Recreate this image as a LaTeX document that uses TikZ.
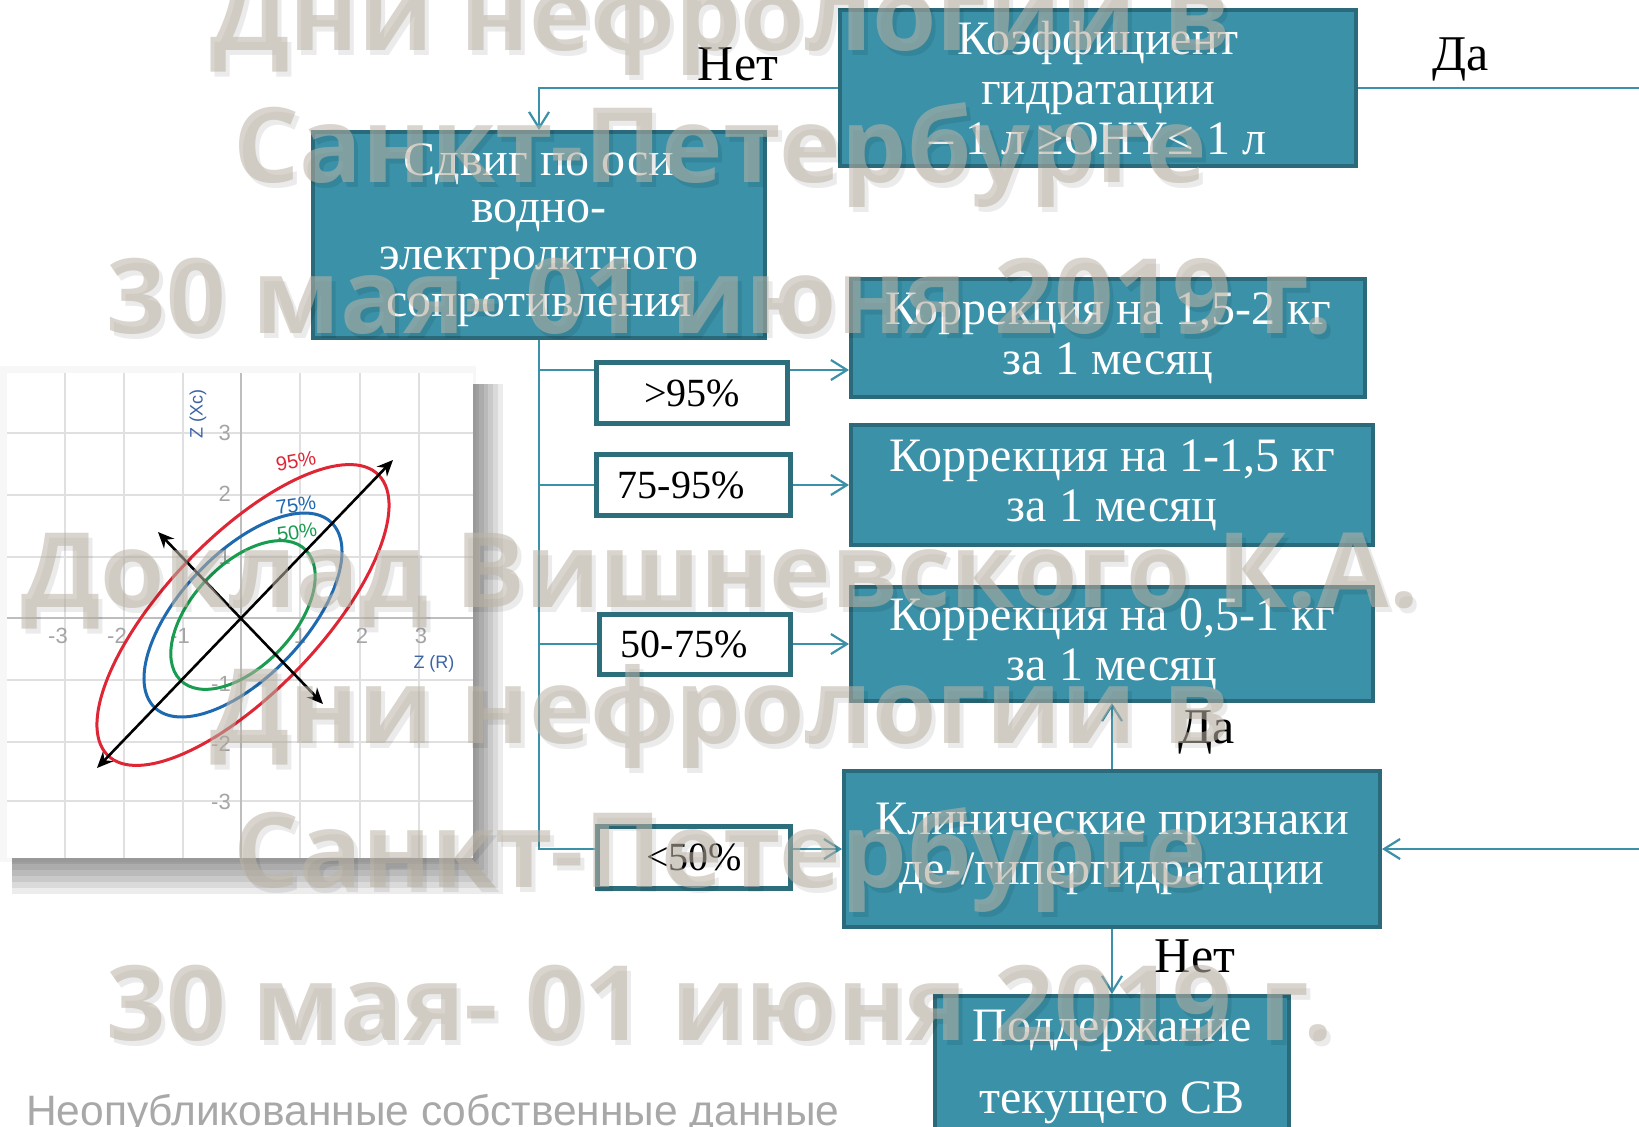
\documentclass[tikz,border=0pt]{standalone}
\usepackage{fontspec}
\setmainfont{Liberation Serif}
\newfontfamily\wmfont{Open Sans}
\newfontfamily\arialfont{Liberation Sans}
\usetikzlibrary{arrows.meta}
\definecolor{boxfill}{RGB}{58,145,168}
\definecolor{boxline}{RGB}{42,106,122}
\definecolor{conn}{RGB}{60,145,168}
\definecolor{lblline}{RGB}{45,110,125}
\definecolor{wmc}{RGB}{188,180,166}
\definecolor{gridc}{RGB}{224,224,224}
\definecolor{axisc}{RGB}{190,190,190}
\definecolor{tickc}{RGB}{165,165,165}
\definecolor{ered}{RGB}{222,38,52}
\definecolor{eblue}{RGB}{30,105,175}
\definecolor{egreen}{RGB}{25,155,80}
\definecolor{zlab}{RGB}{60,100,165}
\definecolor{notec}{RGB}{168,168,168}
\begin{document}
\begin{tikzpicture}[x=1pt,y=-1pt,
  bigbox/.style={draw=boxline, line width=4pt, fill=boxfill, text=white, align=center,
    font=\fontsize{48}{50}\selectfont, inner sep=0pt},
  lblbox/.style={draw=lblline, line width=5pt, fill=white, text=black, align=center,
    font=\fontsize{40}{44}\selectfont, inner sep=0pt},
  conline/.style={draw=conn, line width=2.2pt},
  conarrow/.style={conline, -{Straight Barb[length=16pt,width=20pt]}},
  yesno/.style={font=\fontsize{50}{54}\selectfont, text=black, inner sep=0pt, anchor=base},
  ticklbl/.style={font=\arialfont\fontsize{22}{22}\selectfont, text=tickc, inner sep=0pt},
  wmtext/.style={font=\wmfont\bfseries\fontsize{104}{104}\selectfont, text=wmc, opacity=0.56, anchor=base, inner sep=0pt},
  wmshadow/.style={font=\wmfont\bfseries\fontsize{104}{104}\selectfont, text=black, opacity=0.08, anchor=base, inner sep=0pt},
  plotarrow/.style={black, line width=2.6pt, {Stealth[length=16pt,width=14pt]}-{Stealth[length=16pt,width=14pt]}},
  ell/.style={line width=3pt, shift={(243,615)}, yscale=1.03, rotate=45}
]
\useasboundingbox (0,0) rectangle (1639,1127);
\clip (0,0) rectangle (1639,1127);
\fill[white] (0,0) rectangle (1639,1127);

% ---------- chart panel ----------
\fill[black!3] (0,366) rectangle (476,862);
\foreach \d in {6,12,18,24,30,36} {
  \fill[black, opacity=0.075] (12,384) rectangle (474+\d*0.8, 858+\d);
}
\fill[white] (7,373) rectangle (473,858);
\foreach \gx in {65,124,183,300,360,419} \draw[gridc, line width=1.2pt] (\gx,373) -- (\gx,858);
\foreach \gy in {433,495,557,680,742,801} \draw[gridc, line width=1.2pt] (7,\gy) -- (473,\gy);
\draw[axisc, line width=1.6pt] (241,373) -- (241,858);
\draw[axisc, line width=1.6pt] (7,618) -- (473,618);
\foreach \tx/\tl in {58/-3,117/-2,180/-1,300/1,362/2,421/3} \node[ticklbl] at (\tx,636) {\tl};
\foreach \ty/\tl in {433/3,494/2,557/1,684/-1,744/-2,802/-3} \node[ticklbl, anchor=east] at (231,\ty) {\tl};
\node[font=\arialfont\fontsize{18}{18}\selectfont, text=zlab, rotate=90, inner sep=0pt] at (198,414) {Z (Xc)};
\node[font=\arialfont\fontsize{18}{18}\selectfont, text=zlab, inner sep=0pt] at (434,664) {Z (R)};
\draw[ered, ell] (0,0) ellipse [x radius=192, y radius=76];
\draw[eblue, ell] (0,0) ellipse [x radius=126, y radius=61];
\draw[egreen, ell] (0,0) ellipse [x radius=89, y radius=50];
\node[font=\arialfont\fontsize{20}{20}\selectfont, text=ered, rotate=10, inner sep=0pt] at (296,461) {95\%};
\node[font=\arialfont\fontsize{20}{20}\selectfont, text=eblue, rotate=8, inner sep=0pt] at (296,505) {75\%};
\node[font=\arialfont\fontsize{20}{20}\selectfont, text=egreen, rotate=8, inner sep=0pt] at (297,532) {50\%};
\draw[plotarrow] (97,768) -- (393,460);
\draw[plotarrow] (158,532) -- (323,704);

% ---------- flowchart boxes ----------
\node[bigbox, minimum width=516pt, minimum height=156pt] (kof) at (1098,88)
  {Коэффициент\\гидратации\\– 1 л ≥OHY≤ 1 л};
\node[bigbox, minimum width=452pt, minimum height=206pt,
  font=\fontsize{48}{47}\selectfont] (sdv) at (539,235)
  {Сдвиг по оси\\водно-\\электролитного\\сопротивления};
\node[bigbox, minimum width=514pt, minimum height=118pt] (k1) at (1108,338)
  {Коррекция на 1,5-2 кг\\за 1 месяц};
\node[bigbox, minimum width=522pt, minimum height=120pt] (k2) at (1112,485)
  {Коррекция на 1-1,5 кг\\за 1 месяц};
\node[bigbox, minimum width=522pt, minimum height=114pt] (k3) at (1112,644)
  {Коррекция на 0,5-1 кг\\за 1 месяц};
\node[bigbox, minimum width=536pt, minimum height=156pt] (klin) at (1112,849)
  {Клинические признаки\\де-/гипергидратации};
\node[bigbox, minimum width=354pt, minimum height=142pt,
  font=\fontsize{48}{72}\selectfont] (podd) at (1112,1067)
  {Поддержание\\текущего СВ};

\node[lblbox, minimum width=191pt, minimum height=61pt] (l95) at (692,393) {>95\%};
\node[lblbox, minimum width=194pt, minimum height=61pt] (l75) at (693,485) {75-95\%\hspace*{24pt}};
\node[lblbox, minimum width=191pt, minimum height=60pt] (l50) at (695,644) {50-75\%\hspace*{22pt}};
\node[lblbox, minimum width=193pt, minimum height=62pt] (llt) at (694,857) {<50\%};

% ---------- connectors ----------
\coordinate (tb) at (539,849);
\coordinate (offr) at (1680,500);
\draw[conarrow] (kof.west) -| (sdv.north);
\draw[conline] (sdv.south) -- (tb) -- (tb -| llt.west);
\draw[conline] (sdv.south |- 0,370) -- (l95.west |- 0,370);
\draw[conline] (sdv.south |- l75.west) -- (l75.west);
\draw[conline] (sdv.south |- l50.west) -- (l50.west);
\draw[conarrow] (l95.east |- 0,370) -- (k1.west |- 0,370);
\draw[conarrow] (l75.east) -- (k2.west);
\draw[conarrow] (l50.east) -- (k3.west);
\draw[conarrow] (llt.east |- tb) -- (klin.west);
\draw[conarrow] (kof.east) -| (offr) |- (klin.east);
\draw[conarrow] (klin.north) -- (k3.south);
\draw[conarrow] (klin.south) -- (podd.north);

\node[yesno] (net1) at (738,80) {Нет};
\node[yesno] (da1) at (1461,70) {Да};
\node[yesno] (da2) at (1207,743) {Да};
\node[yesno] (net2) at (1195,972) {Нет};

% ---------- note ----------
\node[font=\arialfont\fontsize{42.5}{44}\selectfont, text=notec, anchor=base west, inner sep=0pt] (note) at (26,1125)
  {Неопубликованные собственные данные};

% ---------- watermark ----------
\foreach \wy/\wt in {50/Дни нефрологии в,182/Санкт-Петербурге,333/30 мая- 01 июня 2019 г.,607/Доклад Вишневского К.А.,743/Дни нефрологии в,887/Санкт-Петербурге,1040/30 мая- 01 июня 2019 г.} {
  \node[wmshadow] at (724,\wy+5) {\wt};
  \node[wmtext] at (720,\wy) {\wt};
}
\end{tikzpicture}
\end{document}
